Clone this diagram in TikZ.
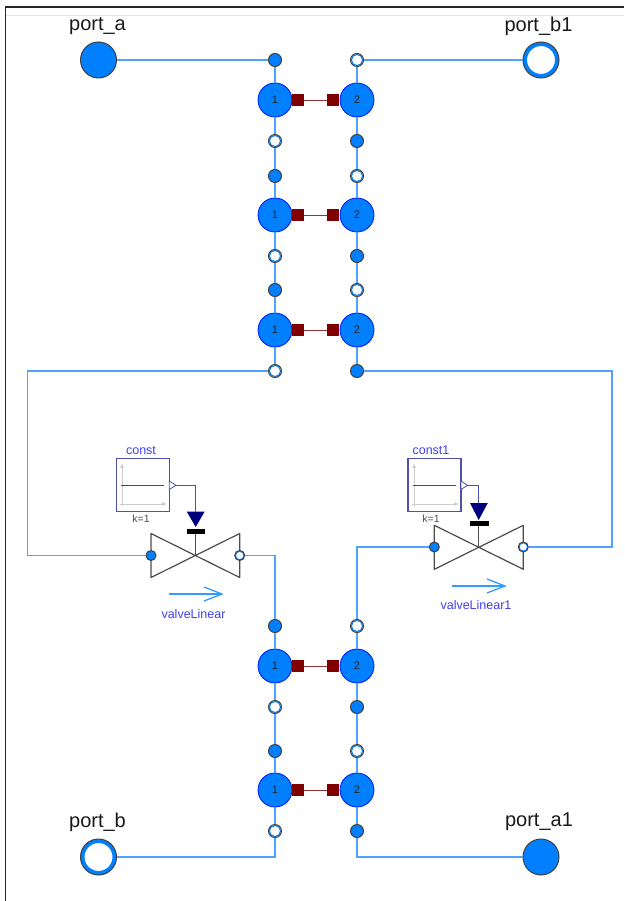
\documentclass[tikz,border=0pt]{standalone}
\usepackage{fontspec}
\usetikzlibrary{arrows.meta}
\setmainfont{Liberation Sans}
\definecolor{portblue}{HTML}{0080FF}
\definecolor{wireblue}{HTML}{4FA3FF}
\definecolor{darkred}{HTML}{7F0000}
\definecolor{boxblue}{HTML}{5050B0}
\definecolor{labelblue}{HTML}{3F3FF0}
\definecolor{navy}{HTML}{00007F}
\tikzset{
  bigport/.style={circle,draw=black!75,line width=1pt,inner sep=0pt,minimum size=36pt},
  porta/.style={bigport,fill=portblue},
  portb/.style={bigport,fill=white,
     path picture={\draw[portblue,line width=4pt] (path picture bounding box.center) circle[radius=16pt];}},
  hx/.style={circle,draw=blue!85!portblue,line width=.8pt,fill=portblue,inner sep=0pt,minimum size=34pt,font=\fontsize{11}{11}\selectfont,text=black!85},
  fp/.style={circle,draw=black!75,line width=1pt,fill=portblue,inner sep=0pt,minimum size=13pt},
  op/.style={circle,draw=black!75,line width=1pt,fill=white,inner sep=0pt,minimum size=13pt,
     path picture={\draw[portblue,line width=1.1pt] (path picture bounding box.center) circle[radius=5.6pt];}},
  fpv/.style={fp,minimum size=10pt},
  opv/.style={op,minimum size=10pt,path picture={\draw[portblue,line width=1pt] (path picture bounding box.center) circle[radius=4.2pt];}},
  heat/.style={rectangle,fill=darkred,inner sep=0pt,minimum size=12pt},
  wire/.style={wireblue,line width=1.3pt},
  hwire/.style={darkred!80,line width=.8pt},
  sigwire/.style={boxblue,line width=1.2pt},
  portlabel/.style={font=\fontsize{20}{22}\selectfont,text=black!90,inner sep=0pt},
  namelabel/.style={font=\fontsize{12.5}{14}\selectfont,text=labelblue,inner sep=0pt},
  klabel/.style={font=\fontsize{10.5}{12}\selectfont,text=black!70,inner sep=0pt},
  constbox/.style={rectangle,draw=boxblue,line width=1.2pt,fill=white,inner sep=0pt,minimum width=53pt,minimum height=53pt},
  valveline/.style={black!70,line width=1.2pt,line join=round},
  axisline/.style={black!20,line width=1pt},
  flow/.style={portblue!80!white,line width=1.3pt},
}
\begin{document}
\begin{tikzpicture}[x=1pt,y=-1pt]
\useasboundingbox (0,0) rectangle (624,901);
% window frame
\draw[black!10,line width=.8pt] (6,15) -- (624,15);
\draw[black!85,line width=1.6pt] (5.5,901) -- (5.5,7) -- (624,7);
% outer ports
\node[porta] (pa) at (98.5,60) {};
\node[portb] (pb1) at (541,60) {};
\node[portb] (pb) at (98.5,857) {};
\node[porta] (pa1) at (541,857) {};
\node[portlabel] (lpa) at (97.5,26) {port\_a};
\node[portlabel] (lpb1) at (538.5,26) {port\_b1};
\node[portlabel] (lpb) at (97.5,822) {port\_b};
\node[portlabel] (lpa1) at (539,822) {port\_a1};
% heat exchanger cells: name / top y / centre y / bottom y
\foreach \n/\t/\c/\b in {A/60/100/141,B/176/215/256,C/290/330/371,D/626/666/707,E/751/790/831}{
  \node[hx] (l\n) at (275,\c) {1};
  \node[hx] (r\n) at (357,\c) {2};
  \node[heat] (hl\n) at (298,\c) {};
  \node[heat] (hr\n) at (333,\c) {};
  \draw[hwire] (hl\n) -- (hr\n);
  \node[fp] (lt\n) at (275,\t) {};
  \node[op] (lb\n) at (275,\b) {};
  \node[op] (rt\n) at (357,\t) {};
  \node[fp] (rb\n) at (357,\b) {};
  \draw[wire] (lt\n) -- (l\n);
  \draw[wire] (l\n) -- (lb\n);
  \draw[wire] (rt\n) -- (r\n);
  \draw[wire] (r\n) -- (rb\n);
}
\draw[wire] (lbA) -- (ltB);
\draw[wire] (lbB) -- (ltC);
\draw[wire] (rbA) -- (rtB);
\draw[wire] (rbB) -- (rtC);
\draw[wire] (lbD) -- (ltE);
\draw[wire] (rbD) -- (rtE);
\draw[wire] (pa) -- (ltA);
\draw[wire] (pb1) -- (rtA);
% left valve
\coordinate (vc) at (195.7,555.5);
\draw[valveline] (151,533.5) -- (239.7,577.5) -- (239.7,533.5) -- (151,577.5) -- cycle;
\draw[valveline] (vc) -- (195.7,531);
\fill[black] (187,529) rectangle (204.7,534.2);
\fill[navy] (186.7,511.5) -- (204.7,511.5) -- (195.7,527) -- cycle;
\node[fpv] (vli) at (151,555.5) {};
\node[opv] (vlo) at (239.7,555.5) {};
\node[constbox] (cl) at (142.7,485.3) {};
\draw[axisline,-{Latex[length=5pt,width=4pt]}] (122,506) -- (122,463);
\draw[axisline,-{Latex[length=5pt,width=4pt]}] (120,504) -- (167,504);
\draw[black!70,line width=1pt] (121,485.3) -- (164,485.3);
\draw[boxblue,line width=.8pt,fill=white] (169.2,481) -- (176,485.3) -- (169.2,489.5) -- cycle;
\coordinate (sl) at (176,485.3);
\coordinate (slt) at (195.7,511.5);
\draw[sigwire] (sl) -| (slt);
\node[namelabel] (ncl) at (141,450.5) {const};
\node[klabel] (kl) at (141,519) {k=1};
\coordinate (fl1) at (169,594);
\coordinate (fl2) at (222,594);
\draw[flow] (fl1) -- (fl2);
\draw[flow] (204,587) -- (222,594) -- (204,601);
\node[namelabel] (nvl) at (193.5,614.5) {valveLinear};
% right valve
\coordinate (wc) at (478.7,547);
\draw[valveline] (434.3,525.3) -- (523.3,569.3) -- (523.3,525.3) -- (434.3,569.3) -- cycle;
\draw[valveline] (wc) -- (478.7,523);
\fill[black] (470,520.5) rectangle (489,526);
\fill[navy] (470,503) -- (487.8,503) -- (478.7,520) -- cycle;
\node[fpv] (wli) at (434.3,547) {};
\node[opv] (wlo) at (523.3,547) {};
\node[constbox] (cr) at (434.5,485.3) {};
\draw[axisline,-{Latex[length=5pt,width=4pt]}] (414,506) -- (414,463);
\draw[axisline,-{Latex[length=5pt,width=4pt]}] (412,504) -- (459,504);
\draw[black!70,line width=1pt] (413,485.3) -- (456,485.3);
\draw[boxblue,line width=.8pt,fill=white] (461,481) -- (467.5,485.3) -- (461,489.5) -- cycle;
\coordinate (sr) at (467.5,485.3);
\coordinate (srt) at (478.7,503);
\draw[sigwire] (sr) -| (srt);
\node[namelabel] (ncr) at (431,450.5) {const1};
\node[klabel] (kr) at (431,519) {k=1};
\coordinate (fr1) at (452,586);
\coordinate (fr2) at (505,586);
\draw[flow] (fr1) -- (fr2);
\draw[flow] (487,579) -- (505,586) -- (487,593);
\node[namelabel] (nvr) at (476,605.5) {valveLinear1};
% system wires
\coordinate (w1) at (27.5,371);
\coordinate (w2) at (27.5,555.5);
\coordinate (w3) at (612,371);
\coordinate (w4) at (612,547);
\coordinate (w5) at (275,555.5);
\coordinate (w6) at (357,547);
\coordinate (w7) at (275,857);
\coordinate (w8) at (357,857);
\draw[wire] (lbC) -- (w1) -- (w2) -- (vli);
\draw[wire] (rbC) -- (w3) -- (w4) -- (wlo);
\draw[wire] (vlo) -- (w5) -- (ltD);
\draw[wire] (wli) -- (w6) -- (rtD);
\draw[wire] (pb) -- (w7) -- (lbE);
\draw[wire] (pa1) -- (w8) -- (rbE);
\end{tikzpicture}
\end{document}
